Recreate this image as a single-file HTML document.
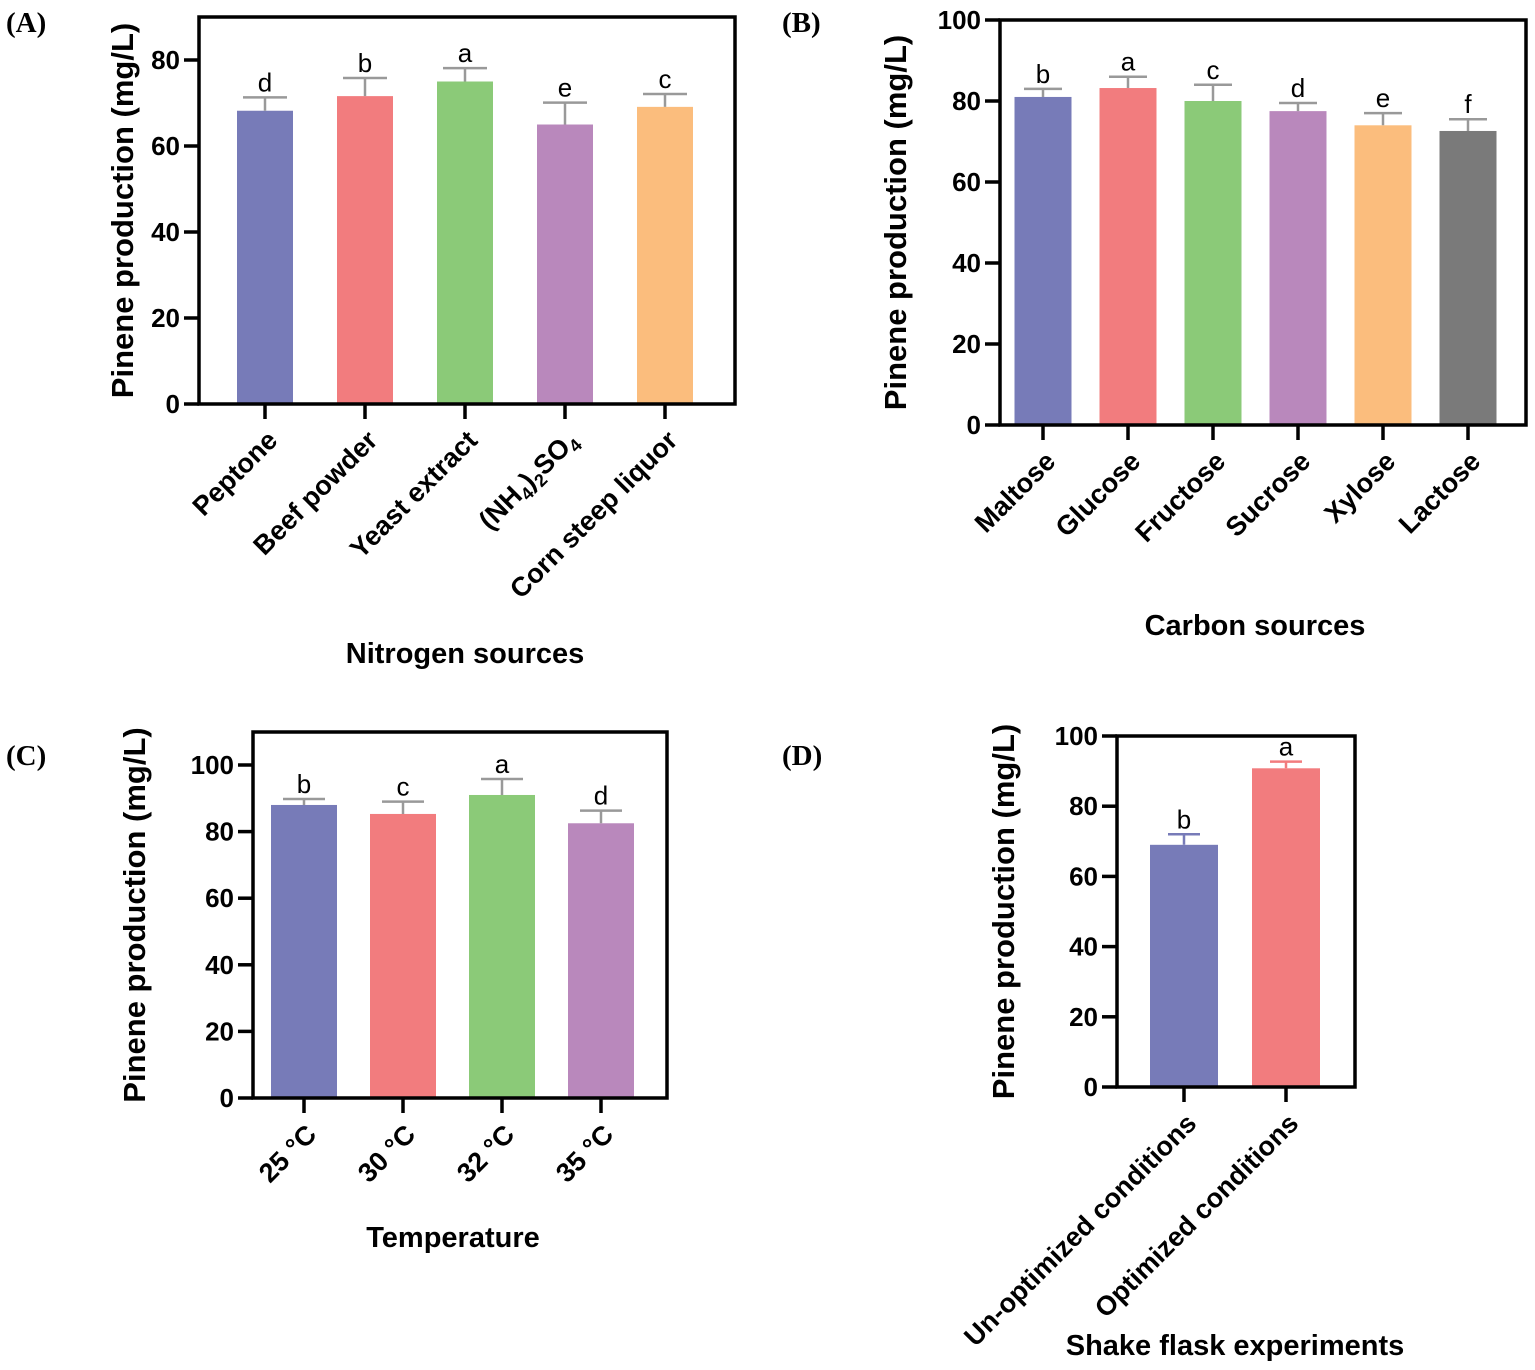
<!DOCTYPE html>
<html><head><meta charset="utf-8"><style>
body{margin:0;background:#fff;}
svg{display:block;}
text{font-family:"Liberation Sans",Arial,sans-serif;}
.tick{font-size:26px;font-weight:bold;}
.ttl{font-size:29px;font-weight:bold;}
.yttl{font-size:31px;font-weight:bold;}
.cat{font-size:27px;font-weight:bold;}
.sig{font-size:26px;}
.pl{font-family:"Liberation Serif",serif;font-size:29px;font-weight:bold;}
</style></head><body>
<svg id="chart" width="1535" height="1370" viewBox="0 0 1535 1370">
<text class="pl" x="6" y="32">(A)</text>
<text class="pl" x="782" y="32">(B)</text>
<text class="pl" x="6" y="765">(C)</text>
<text class="pl" x="782" y="765">(D)</text>
</svg>
<script>
// Panel A data
const catsA=["Peptone","Beef powder","Yeast extract","(NH4)2SO4","Corn steep liquor"];
const valsA=[68.2,71.6,75.0,65.0,69.1];
const errA=[3.1,4.2,3.1,5.1,3.0];
const sigA=["d","b","a","e","c"];
const ticksA=[0,20,40,60,80];
// Panel B data
const catsB=["Maltose","Glucose","Fructose","Sucrose","Xylose","Lactose"];
const valsB=[81.0,83.2,80.0,77.5,74.0,72.6];
const errB=[2.0,2.8,4.0,2.0,3.0,2.9];
const sigB=["b","a","c","d","e","f"];
const ticksB=[0,20,40,60,80,100];
// Panel C data
const catsC=["25 °C","30 °C","32 °C","35 °C"];
const valsC=[88.0,85.3,91.0,82.5];
const errC=[1.8,3.7,4.8,3.8];
const sigC=["b","c","a","d"];
const ticksC=[0,20,40,60,80,100];
// Panel D data
const catsD=["Un-optimized conditions","Optimized conditions"];
const valsD=[69.0,90.8];
const errD=[3.0,1.9];
const sigD=["b","a"];
const ticksD=[0,20,40,60,80,100];

const NS="http://www.w3.org/2000/svg";
const svg=document.getElementById('chart');
function mk(tag,attrs,parent){const e=document.createElementNS(NS,tag);for(const k in attrs)e.setAttribute(k,attrs[k]);(parent||svg).appendChild(e);return e;}

function panel(p){
  const g=mk('g',{});
  
  
  const y=v=>p.y0-(v/p.vmax)*(p.y0-p.y1);
  const x=i=>p.first+p.step*i;
  p.vals.forEach((v,i)=>{
    const r=mk('rect',{x:x(i)-p.bw/2,y:y(v),width:p.bw,height:p.y0-y(v),fill:p.colors[i]},g);
    
    
    const ec=p.errColor||p.colors[i];
    const e=mk('path',{d:`M${x(i)},${y(v)} V${y(v+p.err[i])} M${x(i)-p.cap},${y(v+p.err[i])} H${x(i)+p.cap}`,stroke:ec,'stroke-width':2.5,fill:'none'},g);
    
    
    const s=mk('text',{x:x(i),y:y(v+p.err[i])-6,'text-anchor':'middle',class:'sig'},g);
    s.textContent=p.sig[i];
    
    
  });
  const f=mk('rect',{x:p.x0,y:p.y1,width:p.x1-p.x0,height:p.y0-p.y1,fill:'none',stroke:'#000','stroke-width':3.5},g);
  
  
  p.ticks.forEach(t=>{
    mk('line',{x1:p.x0-15,x2:p.x0,y1:y(t),y2:y(t),stroke:'#000','stroke-width':3.5},g);
    const tt=mk('text',{x:p.x0-19,y:y(t)+9,'text-anchor':'end',class:'tick'},g);
    tt.textContent=t;
    
    
  });
  p.cats.forEach((c,i)=>{
    mk('line',{x1:x(i),x2:x(i),y1:p.y0,y2:p.y0+15,stroke:'#000','stroke-width':3.5},g);
    const t=mk('text',{transform:`translate(${x(i)+14},${p.y0+38}) rotate(-45)`,'text-anchor':'end',class:'cat'},g);
    if(c==="(NH4)2SO4"){t.innerHTML='(NH<tspan font-size="18" dy="6">4</tspan><tspan dy="-6">)</tspan><tspan font-size="18" dy="6">2</tspan><tspan dy="-6">SO</tspan><tspan font-size="18" dy="6">4</tspan>';}
    else t.textContent=c;
    
    
  });
  const yt=mk('text',{transform:`translate(${p.ytx},${(p.y0+p.y1)/2}) rotate(-90)`,'text-anchor':'middle',class:'yttl'},g);
  yt.textContent='Pinene production (mg/L)';
  
  
  const xt=mk('text',{x:p.xtx,y:p.xty,'text-anchor':'middle',class:'ttl'},g);
  xt.textContent=p.xtitle;
  
  
}
const C=["#777bb8","#f27c7e","#8bca78","#b988bc","#fbbd7d","#7a7a7a"];
panel({id:'a',cats:catsA,vals:valsA,err:errA,sig:sigA,ticks:ticksA,x0:199,x1:735,y0:404,y1:17,vmax:(404-17)/4.3,first:265,step:100,bw:56,cap:22,colors:C,errColor:'#999',ytx:133,xtitle:'Nitrogen sources',xtx:465,xty:663});
panel({id:'b',cats:catsB,vals:valsB,err:errB,sig:sigB,ticks:ticksB,x0:1000,x1:1526,y0:425,y1:20,vmax:100,first:1043,step:85,bw:57,cap:19,colors:C,errColor:'#999',ytx:906,xtitle:'Carbon sources',xtx:1255,xty:635});
panel({id:'c',cats:catsC,vals:valsC,err:errC,sig:sigC,ticks:ticksC,x0:253,x1:667,y0:1098,y1:732,vmax:(1098-732)/3.33,first:304,step:99,bw:66,cap:21,colors:C,errColor:'#999',ytx:145,xtitle:'Temperature',xtx:453,xty:1247});
panel({id:'d',cats:catsD,vals:valsD,err:errD,sig:sigD,ticks:ticksD,x0:1117,x1:1355,y0:1087,y1:736,vmax:100,first:1184,step:102,bw:68,cap:16,colors:C,ytx:1014,xtitle:'Shake flask experiments',xtx:1235,xty:1355});
</script>
</body></html>
